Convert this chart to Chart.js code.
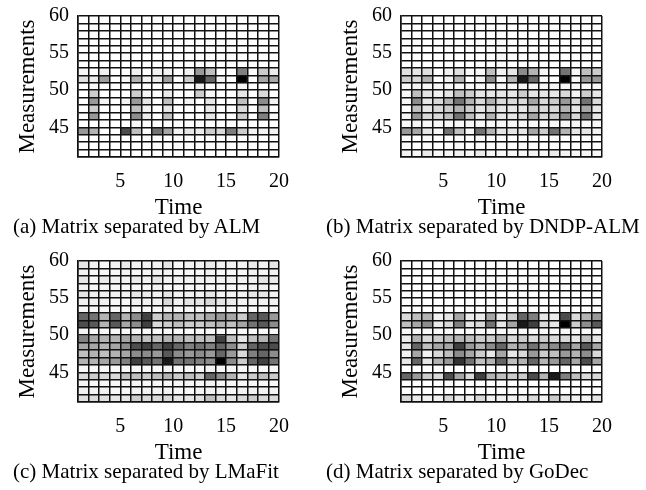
<!DOCTYPE html>
<html>
<head>
<meta charset="utf-8">
<script src="https://cdn.jsdelivr.net/npm/chart.js@4/dist/chart.umd.min.js"></script>
<style>
  body { margin: 0; background: #fff; width: 646px; height: 490px; overflow: hidden; }
  canvas { position: absolute; }
  .caption {
    position: absolute; white-space: nowrap;
    font: 21px/21px 'Liberation Serif', 'Times New Roman', serif; color: #000;
  }
</style>
</head>
<body>
<canvas id="almChart" width="323" height="245" style="left:0;top:0"></canvas>
<canvas id="dndpChart" width="323" height="245" style="left:323px;top:0"></canvas>
<canvas id="lmafitChart" width="323" height="245" style="left:0;top:245px"></canvas>
<canvas id="godecChart" width="323" height="245" style="left:323px;top:245px"></canvas>
<div class="caption" style="left:13px;top:216px">(a) Matrix separated by ALM</div>
<div class="caption" style="left:326px;top:216px">(b) Matrix separated by DNDP-ALM</div>
<div class="caption" style="left:13px;top:461px">(c) Matrix separated by LMaFit</div>
<div class="caption" style="left:326px;top:461px">(d) Matrix separated by GoDec</div>
<script>
// cell edges (pcolor style: 19 x 19 cells)
const times = [1, 2, 3, 4, 5, 6, 7, 8, 9, 10, 11, 12, 13, 14, 15, 16, 17, 18, 19, 20];
const measurements = [41, 42, 43, 44, 45, 46, 47, 48, 49, 50, 51, 52, 53, 54, 55, 56, 57, 58, 59, 60];
const timeTicks = [5, 10, 15, 20];
const measTicks = [45, 50, 55, 60];

// darkness in %, rows from top (59-60) to bottom (41-42)
const alm = [
  [0,0,0,0,0,0,0,0,0,0,0,0,0,0,0,0,0,0,0],
  [0,0,0,0,0,0,0,0,0,0,0,0,0,0,0,0,0,0,0],
  [0,0,0,0,0,0,0,0,0,0,0,0,0,0,0,0,0,0,0],
  [0,0,0,0,0,0,0,0,0,0,0,0,0,0,0,0,0,0,0],
  [0,0,0,0,0,0,0,0,0,0,0,0,0,0,0,0,0,0,0],
  [0,0,0,0,0,0,0,0,0,0,0,0,0,0,0,0,0,0,0],
  [0,0,0,0,0,0,0,0,0,0,0,0,0,0,0,0,0,0,0],
  [3,0,5,0,0,5,0,5,5,0,5,40,25,0,0,50,0,20,8],
  [12,8,38,0,3,30,5,8,38,0,20,90,60,5,0,100,0,35,35],
  [0,3,0,0,0,0,0,0,0,0,0,5,0,0,0,3,0,0,0],
  [0,20,0,0,0,20,3,0,8,0,0,20,3,0,0,10,0,15,0],
  [0,40,5,0,5,40,10,0,25,0,5,0,10,0,0,25,0,45,5],
  [0,20,0,0,0,25,5,0,10,0,0,0,8,0,0,15,0,25,0],
  [0,40,0,0,0,45,8,0,25,0,0,0,10,0,0,20,0,50,0],
  [0,0,0,0,0,3,0,0,0,0,0,0,0,0,0,0,0,0,0],
  [40,30,0,0,70,25,0,55,35,5,10,8,20,15,50,20,5,5,5],
  [0,0,0,0,0,0,0,0,0,0,0,0,0,0,0,0,0,0,0],
  [0,0,0,0,0,0,0,0,0,0,0,0,0,0,0,0,0,0,0],
  [0,0,0,0,0,0,0,0,0,0,0,0,0,0,0,0,0,0,0]
];

const dndpAlm = [
  [0,0,0,0,0,0,0,0,0,0,0,0,0,0,0,0,0,0,0],
  [0,0,0,0,0,0,0,0,0,0,0,0,0,0,0,0,0,0,0],
  [0,0,0,0,0,0,0,0,0,2,0,0,0,0,0,0,0,0,0],
  [0,0,0,0,0,0,0,0,0,2,0,0,0,0,0,0,0,2,0],
  [0,0,0,0,0,0,0,0,0,2,0,0,0,0,0,0,0,0,0],
  [0,0,0,0,0,0,0,0,0,3,0,0,0,0,0,0,0,2,0],
  [0,0,0,0,0,0,0,0,0,2,0,0,0,0,0,0,0,0,0],
  [12,10,12,0,5,12,3,3,25,5,10,45,30,3,0,55,3,25,20],
  [20,15,30,0,5,30,0,5,45,3,30,90,60,3,0,100,3,40,40],
  [3,5,3,3,3,3,3,3,3,3,3,3,3,3,3,3,3,3,3],
  [3,25,10,5,10,25,20,10,10,10,10,20,10,10,10,15,5,20,10],
  [3,45,10,15,30,55,30,15,30,15,15,15,35,15,20,40,15,55,15],
  [0,25,10,15,20,30,20,10,15,10,10,10,20,15,15,30,10,35,10],
  [3,40,15,15,25,55,25,10,30,10,10,15,35,15,20,45,15,55,10],
  [3,3,3,3,3,3,3,3,3,3,3,3,3,3,3,3,3,3,3],
  [40,35,10,3,55,25,3,55,30,10,10,10,35,20,55,30,10,10,5],
  [2,0,2,0,0,2,0,2,0,0,0,0,0,0,2,0,0,0,0],
  [2,0,2,0,0,2,0,0,0,0,0,0,0,0,2,0,0,0,0],
  [5,3,8,3,3,5,3,8,3,3,3,3,5,3,8,5,3,3,3]
];

const lmafit = [
  [10,5,3,5,8,5,5,5,10,3,5,5,8,5,5,5,8,5,10],
  [5,3,3,3,5,3,3,5,5,3,3,3,5,3,3,3,5,3,5],
  [10,3,8,5,5,8,5,10,5,5,5,5,5,5,5,5,5,10,8],
  [5,3,3,3,3,3,3,5,3,3,3,3,3,3,3,3,5,5,3],
  [10,5,5,5,5,10,8,5,10,5,5,5,10,5,5,5,10,10,5],
  [5,5,5,3,3,5,5,5,15,5,10,10,15,10,8,5,5,5,5],
  [3,3,3,3,3,3,3,3,5,3,3,3,3,3,3,3,3,3,3],
  [60,55,30,60,30,45,75,20,30,30,25,25,35,40,35,20,60,65,40],
  [70,65,30,65,35,45,75,15,20,25,20,20,25,30,25,35,55,65,45],
  [5,3,3,3,3,3,3,3,3,3,3,3,3,3,3,3,3,3,3],
  [50,35,30,30,35,30,25,25,30,30,25,25,25,75,25,10,25,30,55],
  [35,35,30,35,45,70,75,60,75,60,50,55,50,60,45,20,60,70,70],
  [25,30,25,30,35,45,45,40,65,45,40,45,40,60,40,15,50,60,45],
  [30,30,35,40,50,75,65,55,90,55,55,50,45,100,45,20,60,75,55],
  [3,3,3,3,3,3,3,3,5,3,3,3,5,3,3,3,3,3,3],
  [15,20,15,15,25,25,20,25,30,20,25,20,60,45,30,10,20,25,20],
  [3,3,3,3,3,3,3,3,3,3,3,3,5,3,3,3,3,3,3],
  [5,5,5,3,3,5,5,5,5,3,3,5,5,5,3,5,5,5,5],
  [12,15,12,10,10,20,15,15,15,10,10,12,25,15,10,15,20,15,15]
];

const godec = [
  [0,0,0,0,0,0,0,0,0,0,0,0,0,0,0,0,0,0,0],
  [0,0,0,0,0,0,0,0,0,0,0,0,0,0,0,0,0,0,0],
  [0,0,0,0,0,0,0,0,0,0,0,0,0,0,0,0,0,0,0],
  [0,0,0,0,0,0,0,0,0,0,0,0,0,0,0,0,0,0,0],
  [0,0,0,0,0,0,0,0,0,0,0,0,0,0,0,0,0,0,0],
  [0,0,0,0,0,0,0,0,0,0,0,0,0,0,0,0,0,0,0],
  [0,0,0,0,0,0,0,0,0,0,0,0,0,0,0,0,0,0,0],
  [15,25,30,5,10,35,8,8,35,8,20,60,50,10,8,70,15,30,40],
  [25,35,45,8,15,50,10,15,55,10,35,90,75,15,10,100,20,45,65],
  [3,3,3,3,3,3,3,3,3,3,3,3,3,3,3,3,3,3,3],
  [8,30,15,20,25,30,25,20,20,30,15,20,15,20,15,15,10,25,10],
  [10,60,25,35,35,75,40,30,45,60,30,35,55,35,45,60,35,65,35],
  [5,35,5,15,25,45,35,20,10,35,10,15,40,20,25,40,30,45,15],
  [10,60,10,30,40,80,55,25,30,60,25,30,60,30,40,60,35,70,35],
  [0,0,0,0,0,0,0,0,0,0,0,0,0,0,0,0,0,0,0],
  [60,40,20,15,70,35,15,75,30,25,20,20,70,30,90,50,25,15,15],
  [0,0,0,0,0,0,0,0,0,0,0,0,0,0,0,0,0,0,0],
  [0,0,0,0,0,0,0,0,0,0,0,0,0,0,0,0,0,0,0],
  [15,8,5,5,15,8,5,15,5,5,5,5,15,5,20,10,5,5,10]
];

Chart.defaults.font.family = "'Liberation Serif', 'Times New Roman', serif";
Chart.defaults.color = '#000';

function gris(v) {
  const g = Math.round(255 * (1 - v / 100));
  return `rgb(${g},${g},${g})`;
}

function crearMapa(id, matriz, padLeft) {
  const n = matriz.length;
  const datasets = matriz.map((fila, r) => ({
    data: fila.map((v, c) => ({
      x: (times[c] + times[c + 1]) / 2,
      y: [measurements[n - 1 - r], measurements[n - r]]
    })),
    backgroundColor: fila.map(gris),
    borderWidth: 0,
    grouped: false,
    barPercentage: 1,
    categoryPercentage: 1
  }));

  // tick marks kept transparent, their length only pushes the labels out
  const grid = (len) => ({
    color: '#111', lineWidth: 1.5, z: 1, offset: false,
    drawTicks: true, tickLength: len, tickColor: 'rgba(0,0,0,0)'
  });
  const border = { color: '#111', width: 1.5, z: 1 };

  return new Chart(document.getElementById(id), {
    type: 'bar',
    data: { datasets: datasets },
    options: {
      responsive: false,
      animation: false,
      layout: { padding: { left: padLeft, right: 44, top: 16, bottom: 28 } },
      plugins: {
        legend: { display: false },
        tooltip: { enabled: false }
      },
      scales: {
        x: {
          type: 'linear',
          min: times[0],
          max: times[times.length - 1],
          offset: false,
          afterBuildTicks: s => { s.ticks = times.map(v => ({ value: v })); },
          afterFit: s => { s.height = 60; },
          ticks: {
            autoSkip: false,
            maxRotation: 0,
            padding: 0,
            z: 1,
            font: { size: 20 },
            callback: v => timeTicks.includes(v) ? v : ''
          },
          grid: grid(13),
          border: border,
          title: { display: true, text: 'Time', font: { size: 23, lineHeight: 1 }, padding: { top: 0, bottom: -2 } }
        },
        y: {
          type: 'linear',
          min: measurements[0],
          max: measurements[measurements.length - 1],
          afterBuildTicks: s => { s.ticks = measurements.map(v => ({ value: v })); },
          afterFit: s => { s.width = 78 - padLeft; },
          ticks: {
            autoSkip: false,
            padding: 0,
            z: 1,
            font: { size: 20 },
            callback: v => measTicks.includes(v) ? v : ''
          },
          grid: grid(9),
          border: border,
          title: { display: true, text: 'Measurements', font: { size: 23, lineHeight: 1 }, padding: { top: 16 - padLeft, bottom: 0 } }
        }
      }
    }
  });
}

crearMapa('almChart', alm, 13);
crearMapa('dndpChart', dndpAlm, 3);
crearMapa('lmafitChart', lmafit, 13);
crearMapa('godecChart', godec, 3);
</script>
</body>
</html>
